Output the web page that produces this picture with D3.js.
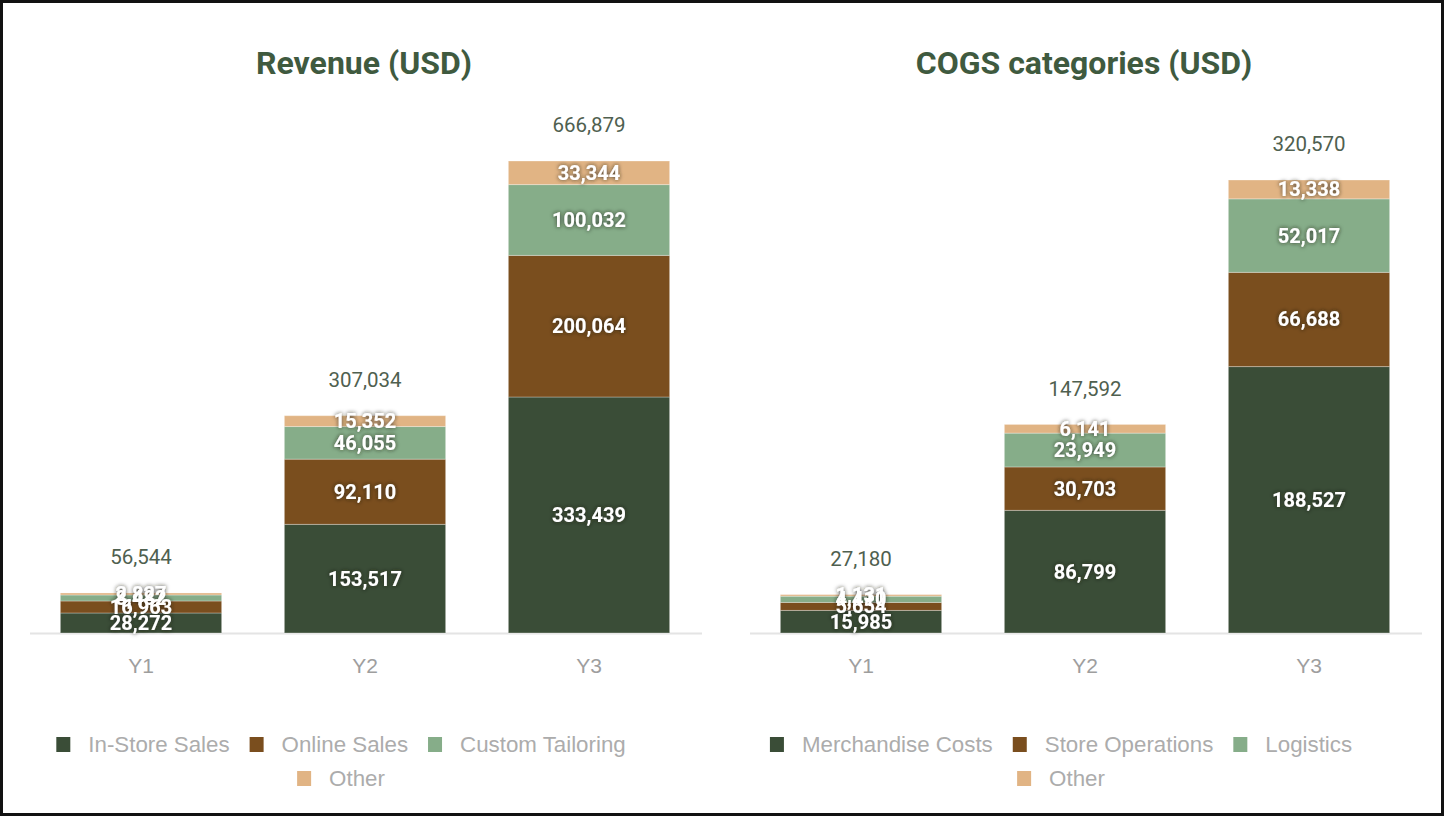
<!DOCTYPE html>
<html>
<head>
<meta charset="utf-8">
<script src="https://cdn.jsdelivr.net/npm/d3@7"></script>
<style>
    body { margin: 0; background: #fff; }
    svg { display: block; }
    .title { font-family: Roboto, 'Liberation Sans', sans-serif; font-weight: bold; font-size: 32px; fill: #3f5a3f; }
    .total { font-family: Roboto, 'Liberation Sans', sans-serif; font-size: 20.5px; fill: #4f604f; }
    .seg { font-family: Roboto, 'Liberation Sans', sans-serif; font-weight: bold; font-size: 20px; fill: #fff; }
    .axis text { font-family: 'Liberation Sans', Arial, sans-serif; font-size: 21px; fill: #9e9e9e; }
    .legend text { font-family: 'Liberation Sans', Arial, sans-serif; font-size: 22.3px; fill: #acacac; }
</style>
</head>
<body>
<div id="vis"></div>
<script>
// Categories and series
var years = ['Y1', 'Y2', 'Y3'];
var colors = ['#3a4d37', '#7a4e1e', '#86ad89', '#e1b484'];

var revenueSeries = ['In-Store Sales', 'Online Sales', 'Custom Tailoring', 'Other'];
var revenueInStore = [28272, 153517, 333439];
var revenueOnline = [16963, 92110, 200064];
var revenueTailoring = [8482, 46055, 100032];
var revenueOther = [2827, 15352, 33344];

var cogsSeries = ['Merchandise Costs', 'Store Operations', 'Logistics', 'Other'];
var cogsMerch = [15985, 86799, 188527];
var cogsStoreOps = [5654, 30703, 66688];
var cogsLogistics = [4410, 23949, 52017];
var cogsOther = [1131, 6141, 13338];

var width = 1444;
var height = 816;

var svg = d3.select('#vis')
    .append('svg')
    .attr('width', width)
    .attr('height', height);

// soft dark halo behind the white segment labels
var shadow = svg.append('defs').append('filter')
    .attr('id', 'halo')
    .attr('x', '-20%').attr('y', '-40%')
    .attr('width', '140%').attr('height', '180%');
shadow.append('feDropShadow')
    .attr('dx', 0).attr('dy', 0)
    .attr('stdDeviation', 2.2)
    .attr('flood-color', '#1a2018')
    .attr('flood-opacity', 0.85);

// outer frame
svg.append('rect')
    .attr('x', 1.5).attr('y', 1.5)
    .attr('width', width - 3).attr('height', height - 3)
    .attr('fill', 'none')
    .attr('stroke', '#111')
    .attr('stroke-width', 3);

var fmt = d3.format(',');

// draws one stacked bar panel
var drawPanel = function(opts) {
    var g = svg.append('g').attr('transform', 'translate(' + opts.left + ',0)');
    var baseY = 633;

    var rows = years.map(function(y, i) {
        var row = { year: y };
        opts.series.forEach(function(s, k) { row[s] = opts.values[k][i]; });
        return row;
    });
    var stacked = d3.stack().keys(opts.series)(rows);

    var xScale = d3.scaleBand()
        .domain(years)
        .range([29, 701])
        .paddingInner(0.28)
        .paddingOuter(0.14);

    var yScale = d3.scaleLinear()
        .domain([0, opts.top])
        .range([baseY, baseY - opts.topPx]);

    g.append('text')
        .attr('class', 'title')
        .attr('x', 364).attr('y', 74)
        .attr('text-anchor', 'middle')
        .text(opts.title);

    // baseline
    g.append('line')
        .attr('x1', 30).attr('x2', 702)
        .attr('y1', baseY + 0.5).attr('y2', baseY + 0.5)
        .attr('stroke', '#e4e4e4').attr('stroke-width', 2);

    var layers = g.selectAll('.layer').data(stacked).enter().append('g')
        .attr('fill', function(d, i) { return colors[i]; });

    layers.selectAll('rect')
        .data(function(d) { return d; })
        .enter().append('rect')
        .attr('x', function(d) { return xScale(d.data.year); })
        .attr('width', xScale.bandwidth())
        .attr('y', function(d) { return yScale(d[1]); })
        .attr('height', function(d) { return yScale(d[0]) - yScale(d[1]); })
        .attr('stroke', 'rgba(255,255,255,0.3)')
        .attr('stroke-width', 1);

    // segment labels
    var segG = g.append('g').attr('filter', 'url(#halo)');
    stacked.forEach(function(layer) {
        segG.selectAll(null).data(layer).enter().append('text')
            .attr('class', 'seg')
            .attr('x', function(d) { return xScale(d.data.year) + xScale.bandwidth() / 2; })
            .attr('y', function(d) { return (yScale(d[0]) + yScale(d[1])) / 2; })
            .attr('dy', '0.35em')
            .attr('text-anchor', 'middle')
            .text(function(d) { return fmt(d[1] - d[0]); });
    });

    // totals
    var last = stacked[stacked.length - 1];
    g.selectAll(null).data(last).enter().append('text')
        .attr('class', 'total')
        .attr('x', function(d) { return xScale(d.data.year) + xScale.bandwidth() / 2; })
        .attr('y', function(d) { return yScale(d[1]) - 36; })
        .attr('dy', '0.35em')
        .attr('text-anchor', 'middle')
        .text(function(d) { return fmt(d[1]); });

    // x axis
    var xAxis = d3.axisBottom(xScale).tickSize(0).tickPadding(25);
    var axisG = g.append('g')
        .attr('class', 'axis')
        .attr('transform', 'translate(0,' + baseY + ')')
        .call(xAxis);
    axisG.select('.domain').remove();

    // legend, wrapped into rows
    var legend = g.append('g').attr('class', 'legend');
    var items = opts.series.map(function(s, i) {
        var it = legend.append('g');
        it.append('rect').attr('width', 14).attr('height', 15)
            .attr('fill', colors[i]).attr('y', -7);
        var t = it.append('text').attr('x', 32).attr('dy', '0.35em').text(s);
        return { g: it, w: 32 + t.node().getComputedTextLength() };
    });
    var rowsL = [[items[0], items[1], items[2]], [items[3]]];
    rowsL.forEach(function(r, ri) {
        var gap = 20;
        var total = d3.sum(r, function(d) { return d.w; }) + gap * (r.length - 1);
        var x = opts.legendCenter - total / 2;
        r.forEach(function(it) {
            it.g.attr('transform', 'translate(' + x + ',' + (744 + ri * 34) + ')');
            x += it.w + gap;
        });
    });
};

drawPanel({
    left: 0,
    title: 'Revenue (USD)',
    series: revenueSeries,
    values: [revenueInStore, revenueOnline, revenueTailoring, revenueOther],
    top: 666879,
    topPx: 472,
    legendCenter: 341
});

drawPanel({
    left: 720,
    title: 'COGS categories (USD)',
    series: cogsSeries,
    values: [cogsMerch, cogsStoreOps, cogsLogistics, cogsOther],
    top: 320570,
    topPx: 453,
    legendCenter: 341
});
</script>
</body>
</html>
